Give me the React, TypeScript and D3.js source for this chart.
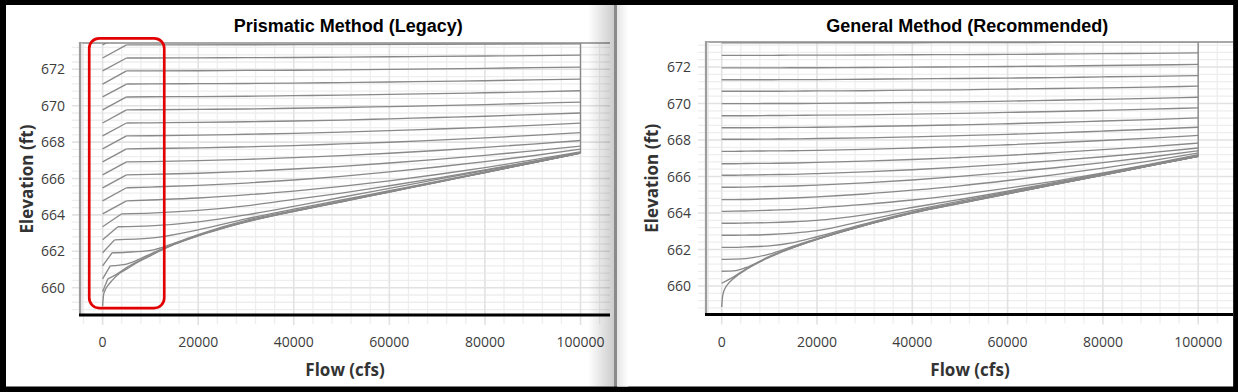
import React from 'react';
import * as d3 from 'd3';

type Pt = [number, number];

// ---------- text ----------
const PANEL_TITLES = ['Prismatic Method (Legacy)', 'General Method (Recommended)'];
const X_TITLE = 'Flow (cfs)';
const Y_TITLE = 'Elevation (ft)';

// ---------- ticks ----------
const X_TICKS = [0, 20000, 40000, 60000, 80000, 100000];
const Y_TICKS = [660, 662, 664, 666, 668, 670, 672];
const X_MINOR_STEP = 4000;
const Y_MINOR_STEP = 0.4;

// ---------- Prismatic (legacy) curves: [flow, elevation] ----------
const PRISMATIC_CURVES: Pt[][] = [
  [[0, 673.34], [5000, 674.05], [100000, 674.1]],
  [[0, 672.62], [5000, 673.34], [10000, 673.34], [50000, 673.36], [100000, 673.4]],
  [[0, 671.91], [5000, 672.62], [10000, 672.62], [20000, 672.63], [30000, 672.64], [40000, 672.65], [50000, 672.67], [60000, 672.69], [70000, 672.71], [80000, 672.73], [90000, 672.75], [100000, 672.78]],
  [[0, 671.19], [5000, 671.91], [10000, 671.91], [20000, 671.92], [30000, 671.94], [40000, 671.95], [50000, 671.97], [60000, 672.0], [70000, 672.02], [80000, 672.05], [90000, 672.09], [100000, 672.12]],
  [[0, 670.48], [5000, 671.19], [10000, 671.2], [20000, 671.21], [30000, 671.22], [40000, 671.24], [50000, 671.27], [60000, 671.3], [70000, 671.34], [80000, 671.37], [90000, 671.42], [100000, 671.46]],
  [[0, 669.77], [5000, 670.48], [10000, 670.49], [20000, 670.5], [30000, 670.52], [40000, 670.55], [50000, 670.58], [60000, 670.62], [70000, 670.66], [80000, 670.71], [90000, 670.76], [100000, 670.82]],
  [[0, 669.05], [5000, 669.77], [10000, 669.78], [20000, 669.8], [30000, 669.82], [40000, 669.86], [50000, 669.9], [60000, 669.95], [70000, 670.0], [80000, 670.06], [90000, 670.13], [100000, 670.2]],
  [[0, 668.34], [5000, 669.05], [10000, 669.06], [20000, 669.08], [30000, 669.12], [40000, 669.16], [50000, 669.21], [60000, 669.28], [70000, 669.35], [80000, 669.42], [90000, 669.51], [100000, 669.6]],
  [[0, 667.63], [5000, 668.34], [10000, 668.35], [20000, 668.38], [30000, 668.43], [40000, 668.48], [50000, 668.55], [60000, 668.63], [70000, 668.72], [80000, 668.81], [90000, 668.92], [100000, 669.04]],
  [[0, 666.91], [5000, 667.63], [10000, 667.65], [20000, 667.68], [30000, 667.74], [40000, 667.81], [50000, 667.9], [60000, 667.99], [70000, 668.11], [80000, 668.23], [90000, 668.37], [100000, 668.52]],
  [[0, 666.2], [5000, 666.91], [10000, 666.93], [20000, 666.98], [30000, 667.05], [40000, 667.15], [50000, 667.26], [60000, 667.39], [70000, 667.54], [80000, 667.71], [90000, 667.89], [100000, 668.09]],
  [[0, 665.49], [5000, 666.2], [10000, 666.23], [20000, 666.29], [30000, 666.39], [40000, 666.52], [50000, 666.67], [60000, 666.85], [70000, 667.05], [80000, 667.27], [90000, 667.52], [100000, 667.78]],
  [[0, 664.77], [5000, 665.49], [10000, 665.53], [20000, 665.62], [30000, 665.75], [40000, 665.92], [50000, 666.12], [60000, 666.36], [70000, 666.63], [80000, 666.93], [90000, 667.25], [100000, 667.61]],
  [[0, 664.06], [5000, 664.77], [10000, 664.82], [20000, 664.93], [30000, 665.1], [40000, 665.31], [50000, 665.57], [60000, 665.87], [70000, 666.22], [80000, 666.6], [90000, 667.02], [100000, 667.47]],
  [[0, 663.35], [4000, 664.06], [10000, 664.1], [20000, 664.25], [30000, 664.5], [40000, 664.85], [50000, 665.2], [60000, 665.6], [70000, 666.02], [80000, 666.47], [90000, 666.94], [100000, 667.44]],
  [[0, 662.63], [3200, 663.35], [10000, 663.4], [20000, 663.62], [30000, 664.0], [40000, 664.47], [50000, 664.97], [60000, 665.46], [70000, 665.95], [80000, 666.44], [90000, 666.93], [100000, 667.42]],
  [[0, 661.92], [2500, 662.63], [10000, 662.72], [20000, 663.18], [30000, 663.78], [40000, 664.32], [50000, 664.82], [60000, 665.33], [70000, 665.84], [80000, 666.36], [90000, 666.88], [100000, 667.41]],
  [[0, 661.2], [2000, 661.92], [5000, 661.95], [10000, 662.05], [15000, 662.45], [20000, 662.92], [30000, 663.7], [40000, 664.25], [50000, 664.76], [60000, 665.29], [70000, 665.81], [80000, 666.34], [90000, 666.87], [100000, 667.41]],
  [[0, 660.49], [1600, 661.2], [5000, 661.3], [10000, 661.85], [15000, 662.41], [20000, 662.88], [30000, 663.63], [40000, 664.2], [50000, 664.73], [60000, 665.27], [70000, 665.8], [80000, 666.33], [90000, 666.86], [100000, 667.4]],
  [[0, 659.78], [1100, 660.49], [3000, 660.75], [5000, 661.1], [10000, 661.78], [15000, 662.39], [20000, 662.86], [30000, 663.62], [40000, 664.19], [50000, 664.72], [60000, 665.26], [70000, 665.79], [80000, 666.33], [90000, 666.86], [100000, 667.4]],
];
const PRISMATIC_ENVELOPE_FLOW = [0, 200, 500, 1000, 2000, 3500, 5000, 7000, 10000, 12200, 15000, 20000, 25000, 30000, 35000, 40000, 50000, 60000, 70000, 80000, 90000, 100000];
const PRISMATIC_ENVELOPE_ELEV = [658.98, 659.6, 659.85, 660.08, 660.4, 660.78, 661.02, 661.35, 661.75, 662.05, 662.38, 662.85, 663.25, 663.6, 663.92, 664.19, 664.72, 665.26, 665.79, 666.33, 666.86, 667.4];

// ---------- General (recommended) curves ----------
const GENERAL_FLOW_GRID = [0, 2500, 5000, 10000, 15000, 20000, 30000, 40000, 50000, 60000, 70000, 80000, 90000, 100000];
const GENERAL_CURVES: number[][] = [
  [673.32, 673.32, 673.32, 673.32, 673.32, 673.32, 673.33, 673.33, 673.34, 673.34, 673.35, 673.36, 673.37, 673.38],
  [672.64, 672.64, 672.64, 672.64, 672.65, 672.65, 672.66, 672.67, 672.68, 672.69, 672.71, 672.73, 672.75, 672.77],
  [671.95, 671.95, 671.95, 671.95, 671.96, 671.96, 671.97, 671.99, 672.01, 672.03, 672.05, 672.08, 672.11, 672.14],
  [671.3, 671.3, 671.3, 671.3, 671.31, 671.31, 671.33, 671.35, 671.37, 671.39, 671.42, 671.46, 671.49, 671.53],
  [670.67, 670.67, 670.67, 670.67, 670.68, 670.69, 670.7, 670.73, 670.75, 670.79, 670.82, 670.86, 670.9, 670.95],
  [669.99, 669.99, 669.99, 670.0, 670.0, 670.01, 670.03, 670.06, 670.09, 670.13, 670.18, 670.23, 670.28, 670.34],
  [669.33, 669.33, 669.33, 669.34, 669.35, 669.36, 669.38, 669.42, 669.46, 669.51, 669.56, 669.62, 669.69, 669.76],
  [668.67, 668.67, 668.67, 668.68, 668.69, 668.7, 668.74, 668.78, 668.83, 668.89, 668.96, 669.04, 669.12, 669.21],
  [668.04, 668.04, 668.04, 668.05, 668.06, 668.08, 668.12, 668.17, 668.24, 668.31, 668.39, 668.49, 668.59, 668.7],
  [667.38, 667.38, 667.39, 667.4, 667.41, 667.43, 667.49, 667.56, 667.64, 667.74, 667.85, 667.97, 668.1, 668.25],
  [666.7, 666.7, 666.71, 666.72, 666.74, 666.77, 666.84, 666.93, 667.04, 667.16, 667.31, 667.47, 667.64, 667.83],
  [666.07, 666.07, 666.08, 666.1, 666.12, 666.16, 666.25, 666.37, 666.51, 666.68, 666.87, 667.08, 667.31, 667.56],
  [665.41, 665.41, 665.42, 665.45, 665.48, 665.53, 665.65, 665.81, 666.01, 666.23, 666.48, 666.76, 667.07, 667.41],
  [664.73, 664.73, 664.74, 664.78, 664.82, 664.88, 665.04, 665.25, 665.49, 665.78, 666.1, 666.46, 666.86, 667.29],
  [664.09, 664.1, 664.11, 664.15, 664.2, 664.28, 664.47, 664.71, 665.01, 665.36, 665.75, 666.19, 666.67, 667.19],
  [663.44, 663.44, 663.45, 663.47, 663.52, 663.6, 663.9, 664.3, 664.74, 665.2, 665.68, 666.16, 666.65, 667.15],
  [662.78, 662.78, 662.79, 662.82, 662.9, 663.03, 663.58, 664.14, 664.65, 665.15, 665.64, 666.13, 666.62, 667.12],
  [662.12, 662.12, 662.14, 662.2, 662.38, 662.7, 663.4, 664.06, 664.58, 665.09, 665.6, 666.1, 666.61, 667.11],
  [661.46, 661.47, 661.5, 661.75, 662.18, 662.6, 663.35, 664.02, 664.55, 665.07, 665.58, 666.09, 666.6, 667.11],
  [660.81, 660.83, 661.0, 661.62, 662.13, 662.57, 663.33, 664.01, 664.54, 665.06, 665.57, 666.08, 666.6, 667.11],
  [660.15, 660.5, 660.92, 661.59, 662.11, 662.56, 663.33, 664.0, 664.53, 665.05, 665.57, 666.08, 666.6, 667.11],
];
const GENERAL_ENVELOPE_FLOW = [0, 200, 500, 1000, 2000, 3500, 5000, 7500, 10000, 15000, 20000, 25000, 30000, 40000, 50000, 60000, 70000, 80000, 90000, 100000];
const GENERAL_ENVELOPE_ELEV = [658.85, 659.45, 659.75, 660.0, 660.3, 660.62, 660.88, 661.25, 661.57, 662.1, 662.55, 662.95, 663.32, 664.0, 664.53, 665.05, 665.57, 666.08, 666.6, 667.11];

// annotation box (flow / elevation extents) on the legacy panel
const HIGHLIGHT_FLOW = [-2800, 12900];
const HIGHLIGHT_ELEV = [658.88, 673.7];

interface Layout {
  id: string;
  left: number; right: number; top: number; bottom: number;
  x0: number; x100k: number; y660: number; y672: number;
  titleX: number; yTitleX: number; xTitleX: number;
}

const LAYOUTS: Layout[] = [
  { id: 'p0', left: 80, right: 610, top: 43, bottom: 315, x0: 102.6, x100k: 580.5, y660: 287.7, y672: 69.3, titleX: 348.3, yTitleX: 33, xTitleX: 345 },
  { id: 'p1', left: 706, right: 1233, top: 42, bottom: 314.5, x0: 721.7, x100k: 1198.2, y660: 286, y672: 67, titleX: 967.3, yTitleX: 658, xTitleX: 970 },
];

const CURVE_COLOR = '#898989';
const LABEL_FONT = '"Open Sans", "Noto Sans", sans-serif';
const TITLE_FONT = '"Liberation Sans", Arial, sans-serif';

function Panel({ L, title, curves, headLinear, envelope, highlight }:
  { L: Layout; title: string; curves: Pt[][]; headLinear: boolean; envelope: Pt[]; highlight: boolean }) {
  const xS = d3.scaleLinear().domain([0, 100000]).range([L.x0, L.x100k]);
  const yS = d3.scaleLinear().domain([660, 672]).range([L.y660, L.y672]);
  const lin = d3.line<Pt>().x(d => xS(d[0])).y(d => yS(d[1])).curve(d3.curveLinear);
  const smooth = d3.line<Pt>().x(d => xS(d[0])).y(d => yS(d[1])).curve(d3.curveMonotoneX);

  const xMinor = d3.range(-10, 30).map(i => i * X_MINOR_STEP).filter(v => xS(v) >= L.left + 2 && xS(v) <= L.right);
  const yMinor = d3.range(-20, 60).map(i => +(656 + i * Y_MINOR_STEP).toFixed(2)).filter(v => yS(v) <= L.bottom && yS(v) >= L.top + 2);
  const isXMajor = (v: number) => v % 20000 === 0;
  const isYMajor = (v: number) => Math.abs(v / 2 - Math.round(v / 2)) < 1e-6;

  const ends = curves.map(c => c[c.length - 1]).concat([envelope[envelope.length - 1]]);
  const endLo = d3.min(ends, d => d[1]) as number;
  const endHi = d3.max(ends.filter(d => yS(d[1]) >= L.top), d => d[1]) as number;
  const plotTopElev = yS.invert(L.top);

  return (
    <g>
      <defs>
        <clipPath id={`clip-${L.id}`}>
          <rect x={L.left} y={L.top} width={L.right - L.left} height={L.bottom - L.top} />
        </clipPath>
      </defs>
      {/* grid */}
      {xMinor.filter(v => !isXMajor(v)).map(v => (
        <line key={`xm${v}`} x1={xS(v)} x2={xS(v)} y1={L.top} y2={L.bottom + 9} stroke="#eeeeee" strokeWidth={1.3} />
      ))}
      {yMinor.filter(v => !isYMajor(v)).map(v => (
        <line key={`ym${v}`} x1={L.left - 8} x2={L.right} y1={yS(v)} y2={yS(v)} stroke="#eeeeee" strokeWidth={1.3} />
      ))}
      {xMinor.filter(isXMajor).map(v => (
        <line key={`xM${v}`} x1={xS(v)} x2={xS(v)} y1={L.top} y2={L.bottom + 10} stroke="#e2e2e2" strokeWidth={1.6} />
      ))}
      {yMinor.filter(isYMajor).map(v => (
        <line key={`yM${v}`} x1={L.left - 8} x2={L.right} y1={yS(v)} y2={yS(v)} stroke="#e2e2e2" strokeWidth={1.6} />
      ))}
      {/* frame lines */}
      <line x1={L.left} x2={L.right} y1={L.top} y2={L.top} stroke="#a8a8a8" strokeWidth={2} />
      <line x1={L.left} x2={L.left} y1={L.top - 1} y2={L.bottom} stroke="#9c9c9c" strokeWidth={2.2} />
      <line x1={L.left + 2} x2={L.left + 2} y1={L.top} y2={L.bottom} stroke="#dcdcdc" strokeWidth={1} />

      {/* curves */}
      <g clipPath={`url(#clip-${L.id})`} fill="none" stroke={CURVE_COLOR} strokeWidth={1.35}>
        {curves.map((c, i) => (
          headLinear ? (
            <g key={i}>
              <path d={lin(c.slice(0, 2)) || ''} />
              <path d={smooth(c.slice(1)) || ''} />
            </g>
          ) : (
            <path key={i} d={smooth(c) || ''} />
          )
        ))}
        <path d={smooth(envelope) || ''} />
        <path d={lin([[100000, endLo], [100000, Math.max(endHi, plotTopElev)]]) || ''} />
      </g>

      {/* bottom axis */}
      <line x1={L.left - 1} x2={L.right} y1={L.bottom} y2={L.bottom} stroke="#000" strokeWidth={3} />

      {/* tick labels */}
      {X_TICKS.map(v => (
        <text key={`xl${v}`} x={xS(v)} y={346.5} textAnchor="middle" fontFamily={LABEL_FONT} fontSize={14} fill="#3c3c3c">{v}</text>
      ))}
      {Y_TICKS.map(v => (
        <text key={`yl${v}`} x={L.left - 15} y={yS(v)} dy="0.36em" textAnchor="end" fontFamily={LABEL_FONT} fontSize={14} fill="#3c3c3c">{v}</text>
      ))}

      {/* titles */}
      <text x={L.titleX} y={32} textAnchor="middle" fontFamily={TITLE_FONT} fontWeight="bold" fontSize={18} fill="#000">{title}</text>
      <text x={L.xTitleX} y={375.5} textAnchor="middle" fontFamily={LABEL_FONT} fontWeight="bold" fontSize={17} fill="#333">{X_TITLE}</text>
      <text transform={`translate(${L.yTitleX},${(L.top + L.bottom) / 2}) rotate(-90)`} textAnchor="middle" fontFamily={LABEL_FONT} fontWeight="bold" fontSize={17} fill="#333">{Y_TITLE}</text>

      {highlight && (
        <rect x={xS(HIGHLIGHT_FLOW[0])} y={yS(HIGHLIGHT_ELEV[1])} width={xS(HIGHLIGHT_FLOW[1]) - xS(HIGHLIGHT_FLOW[0])}
          height={yS(HIGHLIGHT_ELEV[0]) - yS(HIGHLIGHT_ELEV[1])} rx={10} ry={10} fill="none" stroke="#e30000" strokeWidth={2.7} />
      )}
    </g>
  );
}

export default function App() {
  const generalCurves: Pt[][] = GENERAL_CURVES.map(row => row.map((e, i) => [GENERAL_FLOW_GRID[i], e] as Pt));
  const generalEnv: Pt[] = GENERAL_ENVELOPE_FLOW.map((q, i) => [q, GENERAL_ENVELOPE_ELEV[i]] as Pt);
  const prismEnv: Pt[] = PRISMATIC_ENVELOPE_FLOW.map((q, i) => [q, PRISMATIC_ENVELOPE_ELEV[i]] as Pt);

  return (
    <svg width={1238} height={392} style={{ position: 'absolute', left: 0, top: 0, display: 'block' }}>
      <defs>
        <linearGradient id="shadeL" x1="0" x2="1" y1="0" y2="0">
          <stop offset="0" stopColor="#000" stopOpacity={0} />
          <stop offset="1" stopColor="#000" stopOpacity={0.2} />
        </linearGradient>
        <linearGradient id="shadeR" x1="0" x2="1" y1="0" y2="0">
          <stop offset="0" stopColor="#e6e6e6" />
          <stop offset="1" stopColor="#ffffff" />
        </linearGradient>
      </defs>
      <rect x={0} y={0} width={1238} height={392} fill="#000" />
      <rect x={6} y={5} width={608} height={381.5} fill="#fff" />
      <rect x={617} y={5} width={616.5} height={381.5} fill="#fff" />

      <Panel L={LAYOUTS[0]} title={PANEL_TITLES[0]} curves={PRISMATIC_CURVES} headLinear={true} envelope={prismEnv} highlight={true} />
      <Panel L={LAYOUTS[1]} title={PANEL_TITLES[1]} curves={generalCurves} headLinear={false} envelope={generalEnv} highlight={false} />

      {/* divider between panels */}
      <rect x={588} y={5} width={26} height={381.5} fill="url(#shadeL)" />
      <rect x={614} y={5} width={3.2} height={381.5} fill="#8a8a8a" />
      <rect x={617.2} y={5} width={11} height={381.5} fill="url(#shadeR)" />
      <rect x={0} y={0} width={1238} height={5} fill="#000" />
      <rect x={1233.3} y={0} width={4.7} height={392} fill="#000" />
    </svg>
  );
}
